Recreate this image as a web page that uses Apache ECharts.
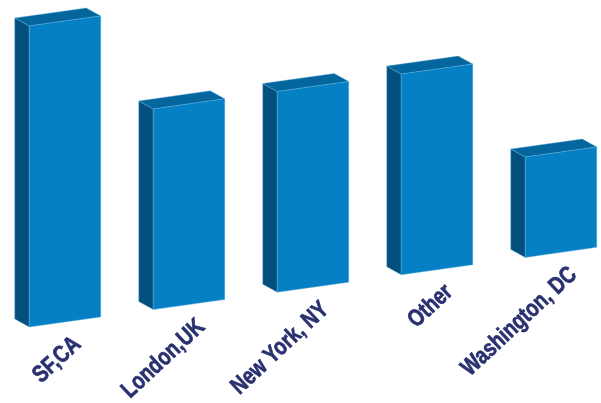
<!DOCTYPE html>
<html>
<head>
<meta charset="utf-8">
<style>html,body{margin:0;padding:0;background:#fff}#chart{width:601px;height:403px}</style>
<script src="https://cdn.jsdelivr.net/npm/echarts@6/dist/echarts.min.js"></script>
</head>
<body>
<div id="chart"></div>
<script>
const categories = ['SF,CA', 'London,UK', 'New York, NY', 'Other', 'Washington, DC'];
const counts = [3, 2, 2, 2, 1];

// Projection of the 3D columns: the floor rises to the right, depth recedes up-left.
const BAR_WIDTH = 71.5, FLOOR_SLOPE = 0.1403, DEPTH_X = 14.5, DEPTH_Y = 8;
const FRONT = '#0680c4', SIDE = '#03507e', TOP = '#05659d', EDGE = '#5fb0de';
const INK = '#29306f';

function renderColumn(params, api) {
  const i = params.dataIndex;
  const base = api.coord([i, 0]);
  const peak = api.coord([i, api.value(1)]);
  const xl = base[0] - BAR_WIDTH / 2, xr = xl + BAR_WIDTH;
  const origin = params.coordSys.x;
  const lift = x => -FLOOR_SLOPE * (x - origin - 26);
  const p = (x, y) => [x, y + lift(x)];
  const fb1 = p(xl, base[1]), fb2 = p(xr, base[1]);
  const ft1 = p(xl, peak[1]), ft2 = p(xr, peak[1]);
  const shift = q => [q[0] - DEPTH_X, q[1] - DEPTH_Y];
  const poly = (points, fill) => ({
    type: 'polygon', shape: { points },
    style: { fill, stroke: EDGE, lineWidth: 0.4 }
  });
  return {
    type: 'group',
    children: [
      poly([shift(ft1), ft1, fb1, shift(fb1)], SIDE),
      poly([shift(ft1), shift(ft2), ft2, ft1], TOP),
      poly([ft1, ft2, fb2, fb1], FRONT),
      {
        type: 'text',
        x: fb1[0] + 48, y: fb1[1] + 14,
        rotation: 43 * Math.PI / 180,
        scaleX: 0.8,
        style: {
          text: categories[i],
          fill: INK,
          stroke: INK,
          lineWidth: 0.7,
          font: 'bold 24px "Liberation Sans", sans-serif',
          align: 'right',
          verticalAlign: 'middle'
        }
      }
    ]
  };
}

const chart = echarts.init(document.getElementById('chart'), null, { renderer: 'canvas' });
chart.setOption({
  animation: false,
  backgroundColor: '#ffffff',
  grid: { left: 3, width: 620, top: 26, height: 301, outerBoundsMode: 'none' },
  xAxis: { type: 'category', data: categories, show: false },
  yAxis: { type: 'value', min: 0, max: 3, show: false },
  series: [{
    type: 'custom',
    clip: false,
    silent: true,
    renderItem: renderColumn,
    encode: { x: 0, y: 1 },
    data: counts.map((v, i) => [i, v])
  }]
});
</script>
</body>
</html>
